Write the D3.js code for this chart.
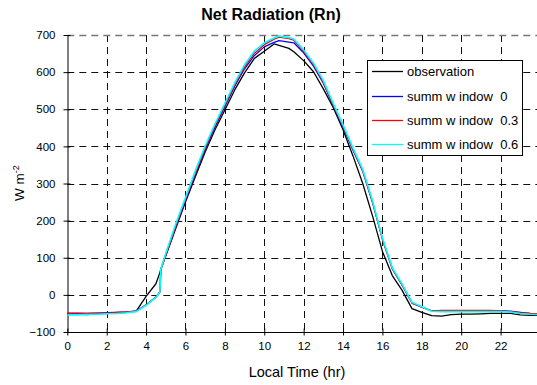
<!DOCTYPE html>
<html>
<head>
<meta charset="utf-8">
<script src="https://cdn.jsdelivr.net/npm/d3@7/dist/d3.min.js"></script>
<style>
  html, body { margin: 0; padding: 0; background: #fff; }
  svg { display: block; }
  text { font-family: "Liberation Sans", Arial, sans-serif; fill: #000; }
</style>
</head>
<body>
<svg id="chart" width="537" height="385"></svg>
<script>
// ---- data ----
const hours = [0,0.5,1,1.5,2,2.5,3,3.5,4,4.5,4.7,4.75,5,5.5,6,6.5,7,7.5,8,8.5,9,9.5,10,10.5,10.75,11,11.25,11.5,12,12.5,13,13.5,14,14.5,15,15.5,16,16.5,17,17.5,18,18.5,19,19.5,20,20.5,21,21.5,22,22.5,23,23.5,24];

const observation = [-52,-52,-53,-51,-50,-49,-47,-44,-4,30,60,70,105,178,250,318,385,445,498,552,598,637,656,676,672,668,664,655,631,601,555,505,445,375,300,212,117,52,12,-37,-47,-56,-57,-53,-52,-52,-51,-50,-50,-50,-54,-55,-55];

const window0 = [-50,-50,-50,-49,-48,-47,-46,-44,-27,-6,8,68,107,182,254,324,392,452,507,562,609,645,668,680,685,683,681,679,652,616,570,510,452,390,333,248,150,70,26,-22,-33,-43,-43,-43,-43,-43,-43,-43,-43,-44,-47,-50,-51];

const window03 = [-49,-49,-50,-49,-49,-47,-46,-44,-27,-6,8,68,108,185,258,328,396,456,511,566,614,651,674,689,694,692,690,686,656,620,573,512,455,393,335,250,150,71,27,-22,-33,-43,-42,-42,-42,-42,-42,-42,-43,-45,-48,-50,-51];

const window06 = [-54,-54,-53,-52,-51,-50,-48,-45,-28,-7,8,70,112,190,262,334,401,461,516,571,620,657,679,692,697,695,693,689,660,624,577,516,458,396,338,253,153,73,29,-20,-32,-44,-45,-45,-45,-45,-45,-45,-45,-46,-50,-52,-53];

const seriesNames = ["observation", "summ w indow  0", "summ w indow  0.3", "summ w indow  0.6"];
const seriesColors = ["#000000", "#0000ff", "#ff0000", "#00ffff"];
const xTicks = [0,2,4,6,8,10,12,14,16,18,20,22];
const yTicks = [-100,0,100,200,300,400,500,600,700];

// ---- layout ----
const svg = d3.select("#chart");
const pL = 67.3, pR = 540, pT = 35, pB = 332;

const x = d3.scaleLinear().domain([0, 24]).range([pL, pR]);
const y = d3.scaleLinear().domain([-100, 700]).range([pB, pT]);

svg.append("defs").append("clipPath").attr("id", "plotclip")
  .append("rect").attr("x", pL).attr("y", pT - 5).attr("width", 537 - pL).attr("height", pB - pT + 5);

// grid
const grid = svg.append("g");
grid.selectAll("line.vg").data(xTicks.filter(d => d > 0)).join("line")
  .attr("x1", d => Math.round(x(d)) + 0.5).attr("x2", d => Math.round(x(d)) + 0.5)
  .attr("y1", pT).attr("y2", pB)
  .attr("stroke", "#111").attr("stroke-width", 1).attr("stroke-dasharray", "7,5");
grid.selectAll("line.hg").data(yTicks.filter(d => d > -100)).join("line")
  .attr("x1", pL).attr("x2", 537)
  .attr("y1", d => Math.round(y(d)) + 0.5).attr("y2", d => Math.round(y(d)) + 0.5)
  .attr("stroke", d => d === 700 ? "#777" : "#111").attr("stroke-width", d => d === 700 ? 1.5 : 1)
  .attr("stroke-dasharray", "7,5");

// axes
const xAxis = d3.axisBottom(x).tickValues(xTicks).tickSize(3).tickSizeOuter(0).tickPadding(6);
const gx = svg.append("g").attr("transform", `translate(0,${Math.round(pB) + 0.5})`).call(xAxis);
gx.select(".domain").attr("d", `M${pL},0H537`).attr("stroke", "#000");
gx.selectAll(".tick line").attr("y1", -4).attr("y2", 3).attr("stroke", "#000");
gx.selectAll(".tick text").attr("font-size", 11.5).attr("fill", "#000")
  .attr("font-family", "'Liberation Sans', Arial, sans-serif");

const yAxis = d3.axisLeft(y).tickValues(yTicks).tickSize(4).tickSizeOuter(0).tickPadding(8);
const gy = svg.append("g").attr("transform", `translate(${Math.round(pL) + 0.5},0)`).call(yAxis);
gy.select(".domain").attr("stroke", "#000");
gy.selectAll(".tick line").attr("x1", -4).attr("x2", 3).attr("stroke", "#000");
gy.selectAll(".tick text").attr("font-size", 11.5).attr("fill", "#000")
  .attr("font-family", "'Liberation Sans', Arial, sans-serif");

// lines
const allSeries = [observation, window0, window03, window06];
const line = d3.line().x((d, i) => x(hours[i])).y(d => y(d));
svg.append("g").attr("clip-path", "url(#plotclip)")
  .selectAll("path").data(allSeries).join("path")
  .attr("d", d => line(d))
  .attr("fill", "none")
  .attr("stroke", (d, i) => seriesColors[i])
  .attr("stroke-width", (d, i) => i === 3 ? 1.6 : 1.3)
  .attr("stroke-linejoin", "round");

// title and labels
svg.append("text").attr("x", 271).attr("y", 20).attr("text-anchor", "middle")
  .attr("font-size", 16).attr("font-weight", "bold").text("Net Radiation (Rn)");

svg.append("text").attr("x", 297).attr("y", 377).attr("text-anchor", "middle")
  .attr("font-size", 14.5).text("Local Time (hr)");

const yl = svg.append("text").attr("transform", "translate(24,183) rotate(-90)")
  .attr("text-anchor", "middle").attr("font-size", 13.5);
yl.append("tspan").text("W m");
yl.append("tspan").attr("dy", -5).attr("font-size", 9).text("-2");

// legend
const lg = svg.append("g");
lg.append("rect").attr("x", 367.5).attr("y", 60.5).attr("width", 155).attr("height", 95)
  .attr("fill", "#fff").attr("stroke", "#000").attr("stroke-width", 1);
const rows = [71, 96, 120, 144];
seriesNames.forEach((name, i) => {
  lg.append("line").attr("x1", 372).attr("x2", 403).attr("y1", rows[i] + 0.5).attr("y2", rows[i] + 0.5)
    .attr("stroke", seriesColors[i]).attr("stroke-width", 1.3);
  lg.append("text").attr("x", 407).attr("y", rows[i] + 4.5).attr("font-size", 13)
    .style("white-space", "pre").text(name);
});
</script>
</body>
</html>
